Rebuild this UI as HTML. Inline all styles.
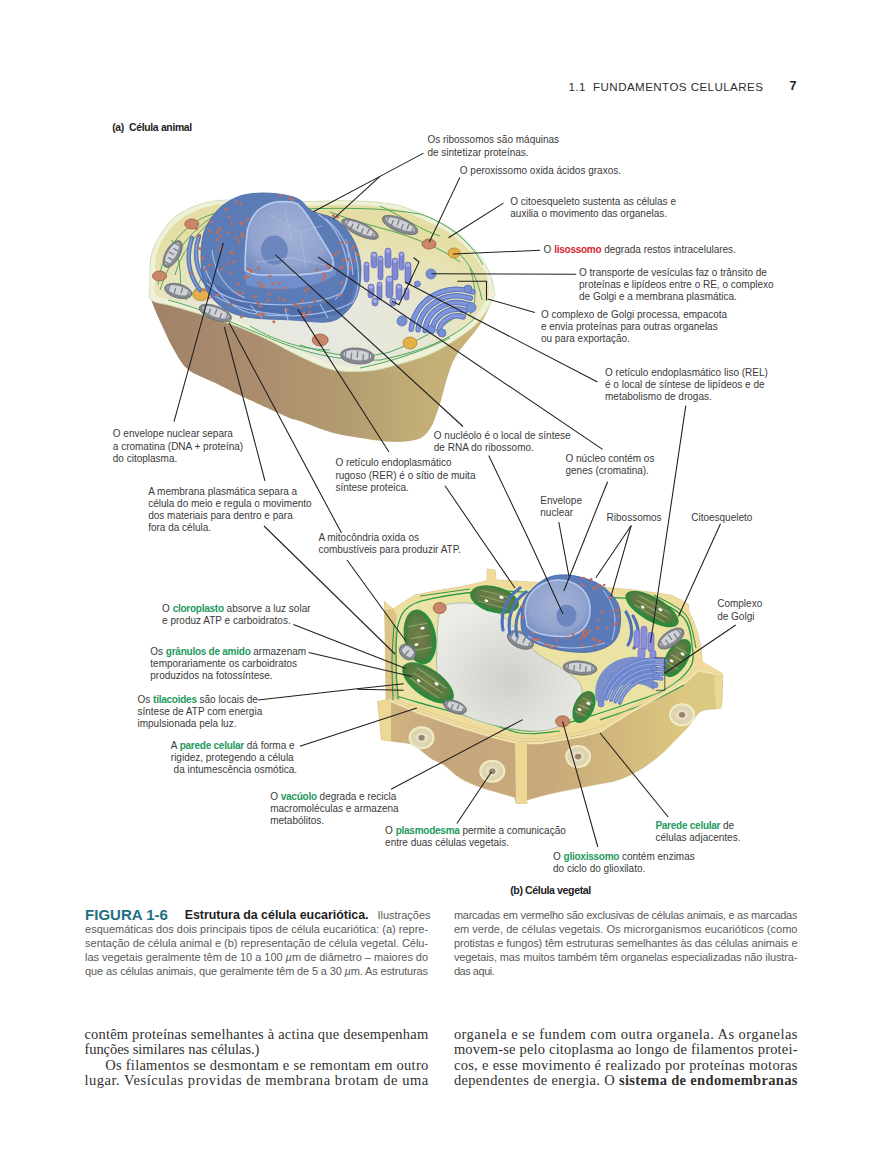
<!DOCTYPE html><html><head><meta charset="utf-8"><style>
html,body{margin:0;padding:0;background:#fff;}
body{width:890px;height:1174px;position:relative;overflow:hidden;font-family:"Liberation Sans",sans-serif;}
.t{position:absolute;white-space:pre;line-height:normal;}
.lb{font-size:10px;color:#3a3a3a;}
.lb b{font-weight:700;letter-spacing:-0.25px;}
svg{position:absolute;left:0;top:0;}
</style></head><body>

<svg width="890" height="1174" viewBox="0 0 890 1174" style="position:absolute;left:0;top:0">
<defs>
<linearGradient id="aside" x1="0" y1="0" x2="1" y2="0">
 <stop offset="0" stop-color="#a08268"/><stop offset="0.3" stop-color="#aa8d6e"/><stop offset="0.55" stop-color="#b29a70"/><stop offset="0.78" stop-color="#c2ad76"/><stop offset="1" stop-color="#cbb87a"/>
</linearGradient>
<radialGradient id="atop" cx="0.45" cy="0.78" r="0.7">
 <stop offset="0" stop-color="#e7e8e3"/><stop offset="0.45" stop-color="#e7e7d8"/><stop offset="0.8" stop-color="#e7e2b4"/><stop offset="1" stop-color="#e5dea4"/>
</radialGradient>
<radialGradient id="nucl" cx="0.5" cy="0.45" r="0.6">
 <stop offset="0" stop-color="#a3b2d6"/><stop offset="0.7" stop-color="#92a4cf"/><stop offset="1" stop-color="#7a90c4"/>
</radialGradient>
<radialGradient id="vac" cx="0.5" cy="0.6" r="0.6">
 <stop offset="0" stop-color="#cfd0ca"/><stop offset="0.6" stop-color="#e0e1da"/><stop offset="1" stop-color="#ecece6"/>
</radialGradient>
<linearGradient id="pside" x1="0" y1="0" x2="1" y2="0">
 <stop offset="0" stop-color="#d4b684"/><stop offset="0.2" stop-color="#c6a67c"/><stop offset="0.5" stop-color="#c8a97a"/><stop offset="0.7" stop-color="#d2b87c"/><stop offset="0.88" stop-color="#dbc780"/><stop offset="1" stop-color="#dcca82"/>
</linearGradient>
<radialGradient id="chl" cx="0.5" cy="0.5" r="0.6">
 <stop offset="0" stop-color="#7c9352"/><stop offset="0.6" stop-color="#5c7d45"/><stop offset="1" stop-color="#3f773a"/>
</radialGradient>
<radialGradient id="mito" cx="0.5" cy="0.4" r="0.6">
 <stop offset="0" stop-color="#d0d2d4"/><stop offset="1" stop-color="#8e9296"/>
</radialGradient>
</defs>
<path d="M150.0,285.0 C149.9,277.8 149.5,265.0 151.0,257.0 C152.5,249.0 155.2,243.5 159.0,237.0 C162.8,230.5 168.4,222.8 173.7,218.0 C179.0,213.2 185.0,210.6 190.6,208.0 C196.2,205.4 200.8,203.7 207.4,202.4 C214.0,201.1 214.6,200.2 230.0,200.0 C245.4,199.8 281.6,201.4 300.0,201.5 C318.4,201.6 328.8,200.7 340.6,200.7 C352.4,200.7 361.9,201.0 371.0,201.7 C380.1,202.4 388.3,203.3 395.0,204.7 C401.7,206.0 405.2,207.5 411.4,209.8 C417.6,212.1 424.7,215.0 432.0,218.5 C439.3,222.0 448.5,226.4 455.0,231.0 C461.5,235.6 466.5,241.3 471.0,246.0 C475.5,250.7 478.8,254.3 482.0,259.0 C485.2,263.7 488.0,268.8 490.0,274.0 C492.0,279.2 493.8,285.2 494.0,290.0 C494.2,294.8 493.4,297.2 491.0,303.0 C488.6,308.8 485.4,316.5 479.8,325.0 C474.2,333.5 462.6,345.8 457.3,354.0 C452.1,362.2 451.3,365.8 448.3,374.4 C445.3,383.0 442.3,396.8 439.3,405.8 C436.3,414.8 434.0,422.7 430.3,428.3 C426.6,433.9 423.6,437.4 416.9,439.6 C410.2,441.9 400.0,442.2 389.9,441.8 C379.8,441.4 366.2,438.9 356.2,437.3 C346.2,435.7 339.4,434.7 330.0,432.0 C320.6,429.3 307.1,423.5 300.0,421.0 C292.9,418.5 296.9,421.0 287.3,416.9 C277.7,412.8 254.4,402.2 242.4,396.6 C230.4,391.0 224.4,387.6 215.4,383.1 C206.4,378.6 195.1,374.9 188.4,369.7 C181.7,364.5 179.1,358.4 175.0,351.7 C170.9,344.9 167.6,337.8 163.7,329.2 C159.8,320.6 153.6,307.4 151.3,300.0 C149.0,292.6 150.1,292.2 150.0,285.0 Z" fill="url(#aside)"/>
<path d="M150.0,285.0 C149.9,277.8 149.5,265.0 151.0,257.0 C152.5,249.0 155.2,243.5 159.0,237.0 C162.8,230.5 168.4,222.8 173.7,218.0 C179.0,213.2 185.0,210.6 190.6,208.0 C196.2,205.4 200.8,203.7 207.4,202.4 C214.0,201.1 214.6,200.2 230.0,200.0 C245.4,199.8 281.6,201.4 300.0,201.5 C318.4,201.6 328.8,200.7 340.6,200.7 C352.4,200.7 361.9,201.0 371.0,201.7 C380.1,202.4 388.3,203.3 395.0,204.7 C401.7,206.0 405.2,207.5 411.4,209.8 C417.6,212.1 424.7,215.0 432.0,218.5 C439.3,222.0 448.5,226.4 455.0,231.0 C461.5,235.6 466.5,241.3 471.0,246.0 C475.5,250.7 478.8,254.3 482.0,259.0 C485.2,263.7 488.0,268.8 490.0,274.0 C492.0,279.2 493.4,286.0 494.0,290.0 C494.6,294.0 496.4,292.2 493.3,298.0 C490.2,303.8 485.1,316.0 475.3,325.0 C465.6,334.0 448.3,345.2 434.8,351.9 C421.3,358.6 405.6,362.2 394.4,365.4 C383.2,368.6 377.5,370.2 367.4,371.0 C357.3,371.8 344.9,372.3 333.7,369.9 C322.5,367.5 311.5,361.7 300.0,356.4 C288.5,351.1 277.0,343.8 264.8,338.2 C252.6,332.6 241.6,327.8 226.6,322.5 C211.6,317.2 187.6,310.4 175.0,306.7 C162.4,302.9 155.5,303.6 151.3,300.0 C147.1,296.4 150.1,292.2 150.0,285.0 Z" fill="#eef0d8" stroke="#cfe0b8" stroke-width="0.8"/>
<path d="M155.0,283.0 C155.0,276.8 154.7,265.3 156.0,258.0 C157.3,250.7 159.5,245.0 163.0,239.0 C166.5,233.0 172.0,226.5 177.0,222.0 C182.0,217.5 187.7,214.6 193.0,212.0 C198.3,209.4 202.8,207.8 209.0,206.5 C215.2,205.2 214.8,204.2 230.0,204.0 C245.2,203.8 281.7,205.4 300.0,205.5 C318.3,205.6 328.3,204.7 340.0,204.7 C351.7,204.7 361.2,205.1 370.0,205.7 C378.8,206.3 386.5,207.2 393.0,208.5 C399.5,209.8 403.0,211.2 409.0,213.5 C415.0,215.8 422.0,218.6 429.0,222.0 C436.0,225.4 444.7,229.7 451.0,234.0 C457.3,238.3 462.5,243.5 467.0,248.0 C471.5,252.5 474.8,256.5 478.0,261.0 C481.2,265.5 484.2,270.2 486.0,275.0 C487.8,279.8 489.0,285.8 489.0,290.0 C489.0,294.2 489.0,294.8 486.0,300.0 C483.0,305.2 480.0,313.2 471.0,321.0 C462.0,328.8 445.0,340.5 432.0,347.0 C419.0,353.5 403.8,356.9 393.0,360.0 C382.2,363.1 376.7,364.8 367.0,365.5 C357.3,366.2 345.8,366.8 335.0,364.5 C324.2,362.2 313.3,356.7 302.0,351.5 C290.7,346.3 279.2,339.2 267.0,333.5 C254.8,327.8 243.8,322.8 229.0,317.5 C214.2,312.2 190.2,305.8 178.0,302.0 C165.8,298.2 159.8,298.2 156.0,295.0 C152.2,291.8 155.0,289.2 155.0,283.0 Z" fill="url(#atop)"/>
<path d="M160,290 C170,260 185,235 215,215 C240,207 270,205 300,207" fill="none" stroke="#3ea04e" stroke-width="0.9"/>
<path d="M300,209 C340,208 380,207 420,214 C445,222 470,240 483,265" fill="none" stroke="#3ea04e" stroke-width="0.9"/>
<path d="M168,300 C200,308 230,322 265,336 C300,352 340,362 380,360 C420,352 455,338 475,318" fill="none" stroke="#3ea04e" stroke-width="0.9"/>
<path d="M330,212 C350,220 370,225 395,232 C420,240 440,248 460,262" fill="none" stroke="#3ea04e" stroke-width="0.9"/>
<path d="M175,275 C180,255 195,235 210,222" fill="none" stroke="#3ea04e" stroke-width="0.9"/>
<path d="M300,345 C330,355 360,360 390,352 C415,342 440,330 465,310" fill="none" stroke="#3ea04e" stroke-width="0.9"/>
<path d="M455,250 C470,262 478,280 482,300" fill="none" stroke="#3ea04e" stroke-width="0.9"/>
<path d="M250,326 C270,338 300,350 330,350" fill="none" stroke="#3ea04e" stroke-width="0.9"/>
<path d="M158,285 C160,262 172,240 190,226 C200,218 210,214 222,212" fill="none" stroke="#3ea04e" stroke-width="0.9"/>
<path d="M185,300 C200,290 205,270 205,255" fill="none" stroke="#3ea04e" stroke-width="0.9"/>
<path d="M172,240 C178,255 182,270 180,290" fill="none" stroke="#3ea04e" stroke-width="0.9"/>
<path d="M380,206 C400,215 420,230 440,236" fill="none" stroke="#3ea04e" stroke-width="0.9"/>
<path d="M470,268 C475,285 478,300 470,315" fill="none" stroke="#3ea04e" stroke-width="0.9"/>
<path d="M360,368 C390,362 420,352 450,338" fill="none" stroke="#3ea04e" stroke-width="0.9"/>
<g transform="translate(172.7,254) rotate(-60)"><ellipse rx="15" ry="7" fill="#85898f" stroke="#62666b" stroke-width="0.7"/><ellipse cy="-0.70" rx="12.30" ry="4.34" fill="#cfd2d6"/><line x1="-10.50" y1="-3.85" x2="-10.50" y2="1.05" stroke="#7b7f85" stroke-width="1.3" stroke-linecap="round"/><line x1="-5.25" y1="3.15" x2="-5.25" y2="-1.75" stroke="#7b7f85" stroke-width="1.3" stroke-linecap="round"/><line x1="0.00" y1="-3.85" x2="0.00" y2="1.05" stroke="#7b7f85" stroke-width="1.3" stroke-linecap="round"/><line x1="5.25" y1="3.15" x2="5.25" y2="-1.75" stroke="#7b7f85" stroke-width="1.3" stroke-linecap="round"/><line x1="10.50" y1="-3.85" x2="10.50" y2="1.05" stroke="#7b7f85" stroke-width="1.3" stroke-linecap="round"/></g>
<g transform="translate(178.3,291) rotate(15)"><ellipse rx="14" ry="7" fill="#85898f" stroke="#62666b" stroke-width="0.7"/><ellipse cy="-0.70" rx="11.48" ry="4.34" fill="#cfd2d6"/><line x1="-9.80" y1="-3.85" x2="-9.80" y2="1.05" stroke="#7b7f85" stroke-width="1.3" stroke-linecap="round"/><line x1="-3.27" y1="3.15" x2="-3.27" y2="-1.75" stroke="#7b7f85" stroke-width="1.3" stroke-linecap="round"/><line x1="3.27" y1="-3.85" x2="3.27" y2="1.05" stroke="#7b7f85" stroke-width="1.3" stroke-linecap="round"/><line x1="9.80" y1="3.15" x2="9.80" y2="-1.75" stroke="#7b7f85" stroke-width="1.3" stroke-linecap="round"/></g>
<g transform="translate(215.4,313) rotate(20)"><ellipse rx="17" ry="7" fill="#85898f" stroke="#62666b" stroke-width="0.7"/><ellipse cy="-0.70" rx="13.94" ry="4.34" fill="#cfd2d6"/><line x1="-11.90" y1="-3.85" x2="-11.90" y2="1.05" stroke="#7b7f85" stroke-width="1.3" stroke-linecap="round"/><line x1="-5.95" y1="3.15" x2="-5.95" y2="-1.75" stroke="#7b7f85" stroke-width="1.3" stroke-linecap="round"/><line x1="0.00" y1="-3.85" x2="0.00" y2="1.05" stroke="#7b7f85" stroke-width="1.3" stroke-linecap="round"/><line x1="5.95" y1="3.15" x2="5.95" y2="-1.75" stroke="#7b7f85" stroke-width="1.3" stroke-linecap="round"/><line x1="11.90" y1="-3.85" x2="11.90" y2="1.05" stroke="#7b7f85" stroke-width="1.3" stroke-linecap="round"/></g>
<g transform="translate(360,229) rotate(25)"><ellipse rx="20" ry="6.5" fill="#85898f" stroke="#62666b" stroke-width="0.7"/><ellipse cy="-0.65" rx="16.40" ry="4.03" fill="#cfd2d6"/><line x1="-14.00" y1="-3.58" x2="-14.00" y2="0.97" stroke="#7b7f85" stroke-width="1.3" stroke-linecap="round"/><line x1="-8.40" y1="2.93" x2="-8.40" y2="-1.62" stroke="#7b7f85" stroke-width="1.3" stroke-linecap="round"/><line x1="-2.80" y1="-3.58" x2="-2.80" y2="0.97" stroke="#7b7f85" stroke-width="1.3" stroke-linecap="round"/><line x1="2.80" y1="2.93" x2="2.80" y2="-1.62" stroke="#7b7f85" stroke-width="1.3" stroke-linecap="round"/><line x1="8.40" y1="-3.58" x2="8.40" y2="0.97" stroke="#7b7f85" stroke-width="1.3" stroke-linecap="round"/><line x1="14.00" y1="2.93" x2="14.00" y2="-1.62" stroke="#7b7f85" stroke-width="1.3" stroke-linecap="round"/></g>
<g transform="translate(400,225) rotate(22)"><ellipse rx="19" ry="7" fill="#85898f" stroke="#62666b" stroke-width="0.7"/><ellipse cy="-0.70" rx="15.58" ry="4.34" fill="#cfd2d6"/><line x1="-13.30" y1="-3.85" x2="-13.30" y2="1.05" stroke="#7b7f85" stroke-width="1.3" stroke-linecap="round"/><line x1="-7.98" y1="3.15" x2="-7.98" y2="-1.75" stroke="#7b7f85" stroke-width="1.3" stroke-linecap="round"/><line x1="-2.66" y1="-3.85" x2="-2.66" y2="1.05" stroke="#7b7f85" stroke-width="1.3" stroke-linecap="round"/><line x1="2.66" y1="3.15" x2="2.66" y2="-1.75" stroke="#7b7f85" stroke-width="1.3" stroke-linecap="round"/><line x1="7.98" y1="-3.85" x2="7.98" y2="1.05" stroke="#7b7f85" stroke-width="1.3" stroke-linecap="round"/><line x1="13.30" y1="3.15" x2="13.30" y2="-1.75" stroke="#7b7f85" stroke-width="1.3" stroke-linecap="round"/></g>
<g transform="translate(357.3,356) rotate(5)"><ellipse rx="17" ry="8" fill="#85898f" stroke="#62666b" stroke-width="0.7"/><ellipse cy="-0.80" rx="13.94" ry="4.96" fill="#cfd2d6"/><line x1="-11.90" y1="-4.40" x2="-11.90" y2="1.20" stroke="#7b7f85" stroke-width="1.3" stroke-linecap="round"/><line x1="-5.95" y1="3.60" x2="-5.95" y2="-2.00" stroke="#7b7f85" stroke-width="1.3" stroke-linecap="round"/><line x1="0.00" y1="-4.40" x2="0.00" y2="1.20" stroke="#7b7f85" stroke-width="1.3" stroke-linecap="round"/><line x1="5.95" y1="3.60" x2="5.95" y2="-2.00" stroke="#7b7f85" stroke-width="1.3" stroke-linecap="round"/><line x1="11.90" y1="-4.40" x2="11.90" y2="1.20" stroke="#7b7f85" stroke-width="1.3" stroke-linecap="round"/></g>
<ellipse cx="191.8" cy="224" rx="7" ry="5" fill="#c98668" stroke="#9c5d45" stroke-width="0.8"/>
<ellipse cx="159.5" cy="276" rx="7" ry="5" fill="#c98668" stroke="#9c5d45" stroke-width="0.8"/>
<ellipse cx="320.2" cy="340" rx="8" ry="6" fill="#c98668" stroke="#9c5d45" stroke-width="0.8"/>
<ellipse cx="429" cy="244" rx="7" ry="5" fill="#c98668" stroke="#9c5d45" stroke-width="0.8"/>
<ellipse cx="454" cy="253" rx="6" ry="5" fill="#e3b04a" stroke="#b9842c" stroke-width="0.8"/>
<ellipse cx="200.8" cy="294.6" rx="8" ry="6" fill="#e3b04a" stroke="#b9842c" stroke-width="0.8"/>
<ellipse cx="410" cy="343" rx="7" ry="6" fill="#e3b04a" stroke="#b9842c" stroke-width="0.8"/>
<rect x="364" y="262" width="5" height="20" rx="2.5" fill="#7f88d4" stroke="#5b63b0" stroke-width="0.6"/>
<ellipse cx="366.5" cy="264.5" rx="1.7" ry="1.3" fill="#a9b0e6"/>
<rect x="371" y="252" width="6" height="16" rx="3.0" fill="#7f88d4" stroke="#5b63b0" stroke-width="0.6"/>
<ellipse cx="374.0" cy="255.0" rx="2.2" ry="1.8" fill="#a9b0e6"/>
<rect x="378" y="256" width="5" height="24" rx="2.5" fill="#7f88d4" stroke="#5b63b0" stroke-width="0.6"/>
<ellipse cx="380.5" cy="258.5" rx="1.7" ry="1.3" fill="#a9b0e6"/>
<rect x="385" y="248" width="6" height="20" rx="3.0" fill="#7f88d4" stroke="#5b63b0" stroke-width="0.6"/>
<ellipse cx="388.0" cy="251.0" rx="2.2" ry="1.8" fill="#a9b0e6"/>
<rect x="392" y="258" width="6" height="22" rx="3.0" fill="#7f88d4" stroke="#5b63b0" stroke-width="0.6"/>
<ellipse cx="395.0" cy="261.0" rx="2.2" ry="1.8" fill="#a9b0e6"/>
<rect x="399" y="252" width="5" height="18" rx="2.5" fill="#7f88d4" stroke="#5b63b0" stroke-width="0.6"/>
<ellipse cx="401.5" cy="254.5" rx="1.7" ry="1.3" fill="#a9b0e6"/>
<rect x="405" y="262" width="6" height="22" rx="3.0" fill="#7f88d4" stroke="#5b63b0" stroke-width="0.6"/>
<ellipse cx="408.0" cy="265.0" rx="2.2" ry="1.8" fill="#a9b0e6"/>
<rect x="368" y="284" width="6" height="14" rx="3.0" fill="#7f88d4" stroke="#5b63b0" stroke-width="0.6"/>
<ellipse cx="371.0" cy="287.0" rx="2.2" ry="1.8" fill="#a9b0e6"/>
<rect x="377" y="282" width="5" height="18" rx="2.5" fill="#7f88d4" stroke="#5b63b0" stroke-width="0.6"/>
<ellipse cx="379.5" cy="284.5" rx="1.7" ry="1.3" fill="#a9b0e6"/>
<rect x="386" y="276" width="7" height="22" rx="3.5" fill="#7f88d4" stroke="#5b63b0" stroke-width="0.6"/>
<ellipse cx="389.5" cy="279.5" rx="2.7" ry="2.3" fill="#a9b0e6"/>
<rect x="396" y="284" width="6" height="16" rx="3.0" fill="#7f88d4" stroke="#5b63b0" stroke-width="0.6"/>
<ellipse cx="399.0" cy="287.0" rx="2.2" ry="1.8" fill="#a9b0e6"/>
<rect x="404" y="288" width="5" height="12" rx="2.5" fill="#7f88d4" stroke="#5b63b0" stroke-width="0.6"/>
<ellipse cx="406.5" cy="290.5" rx="1.7" ry="1.3" fill="#a9b0e6"/>
<rect x="372" y="298" width="6" height="8" rx="3.0" fill="#7f88d4" stroke="#5b63b0" stroke-width="0.6"/>
<ellipse cx="375.0" cy="301.0" rx="2.2" ry="1.8" fill="#a9b0e6"/>
<rect x="390" y="298" width="6" height="8" rx="3.0" fill="#7f88d4" stroke="#5b63b0" stroke-width="0.6"/>
<ellipse cx="393.0" cy="301.0" rx="2.2" ry="1.8" fill="#a9b0e6"/>
<path d="M439.1,331.5 A18.0,17.1 0 0 1 463.2,316.9" fill="none" stroke="#5a72c0" stroke-width="5.5" stroke-linecap="round"/>
<path d="M439.1,331.5 A18.0,17.1 0 0 1 463.2,316.9" fill="none" stroke="#7f97da" stroke-width="3.5" stroke-linecap="round"/>
<path d="M432.1,330.9 A25.0,23.8 0 0 1 465.6,310.7" fill="none" stroke="#5a72c0" stroke-width="5.5" stroke-linecap="round"/>
<path d="M432.1,330.9 A25.0,23.8 0 0 1 465.6,310.7" fill="none" stroke="#7f97da" stroke-width="3.5" stroke-linecap="round"/>
<path d="M425.1,330.4 A32.0,30.4 0 0 1 467.9,304.4" fill="none" stroke="#5a72c0" stroke-width="5.5" stroke-linecap="round"/>
<path d="M425.1,330.4 A32.0,30.4 0 0 1 467.9,304.4" fill="none" stroke="#7f97da" stroke-width="3.5" stroke-linecap="round"/>
<path d="M418.1,329.8 A39.0,37.0 0 0 1 470.3,298.2" fill="none" stroke="#5a72c0" stroke-width="5.5" stroke-linecap="round"/>
<path d="M418.1,329.8 A39.0,37.0 0 0 1 470.3,298.2" fill="none" stroke="#7f97da" stroke-width="3.5" stroke-linecap="round"/>
<path d="M411.2,329.2 A46.0,43.7 0 0 1 472.7,291.9" fill="none" stroke="#5a72c0" stroke-width="5.5" stroke-linecap="round"/>
<path d="M411.2,329.2 A46.0,43.7 0 0 1 472.7,291.9" fill="none" stroke="#7f97da" stroke-width="3.5" stroke-linecap="round"/>
<circle cx="431" cy="274" r="5" fill="#7890d6" stroke="#5068b5" stroke-width="0.7"/>
<circle cx="417.4" cy="284" r="3" fill="#7890d6" stroke="#5068b5" stroke-width="0.7"/>
<circle cx="468" cy="289" r="4" fill="#7890d6" stroke="#5068b5" stroke-width="0.7"/>
<circle cx="471" cy="307.5" r="5" fill="#7890d6" stroke="#5068b5" stroke-width="0.7"/>
<circle cx="402" cy="321" r="5" fill="#7890d6" stroke="#5068b5" stroke-width="0.7"/>
<circle cx="431" cy="329.4" r="4" fill="#7890d6" stroke="#5068b5" stroke-width="0.7"/>
<circle cx="442" cy="333" r="4" fill="#7890d6" stroke="#5068b5" stroke-width="0.7"/>
<path d="M192,238 C186,255 188,275 200,290" fill="none" stroke="#5c7cb8" stroke-width="4.5" stroke-linecap="round"/>
<path d="M192,238 C186,255 188,275 200,290" fill="none" stroke="#a6bbe6" stroke-width="0.8"/>
<path d="M199,236 C194,250 195,268 205,282" fill="none" stroke="#5c7cb8" stroke-width="4.5" stroke-linecap="round"/>
<path d="M199,236 C194,250 195,268 205,282" fill="none" stroke="#a6bbe6" stroke-width="0.8"/>
<path d="M203.0,236.0 C204.5,229.3 206.8,225.0 210.0,220.0 C213.2,215.0 217.0,210.0 222.0,206.0 C227.0,202.0 233.3,198.2 240.0,196.0 C246.7,193.8 254.5,193.2 262.0,193.0 C269.5,192.8 278.7,193.8 285.0,195.0 C291.3,196.2 295.5,197.3 300.0,200.0 C304.5,202.7 306.5,208.0 312.0,211.0 C317.5,214.0 327.2,214.8 333.0,218.0 C338.8,221.2 343.0,225.0 347.0,230.0 C351.0,235.0 354.7,241.3 357.0,248.0 C359.3,254.7 361.0,262.0 361.0,270.0 C361.0,278.0 360.0,288.5 357.0,296.0 C354.0,303.5 348.2,310.7 343.0,315.0 C337.8,319.3 334.5,321.2 326.0,322.0 C317.5,322.8 304.0,320.7 292.0,320.0 C280.0,319.3 264.3,319.3 254.0,318.0 C243.7,316.7 237.0,315.3 230.0,312.0 C223.0,308.7 216.3,302.8 212.0,298.0 C207.7,293.2 205.8,289.3 204.0,283.0 C202.2,276.7 201.2,267.8 201.0,260.0 C200.8,252.2 201.5,242.7 203.0,236.0 Z" fill="#5c7cb8" stroke="#4565a5" stroke-width="0.8"/>
<path d="M205,285 C220,300 240,312 270,316 C300,320 330,320 345,310 C352,300 356,285 357,270 L350,272 C348,290 335,305 305,307 C270,308 235,300 208,278 Z" fill="#40609f" opacity="0.45"/>
<path d="M207,283 C218,294 232,300 247,302 C275,307 315,306 342,293 C350,280 350,255 346,239" fill="none" stroke="#a9bde6" stroke-width="1.1"/>
<path d="M204,266 C212,290 230,308 250,313 C280,318 325,318 353,302 C360,290 360,270 355,252" fill="none" stroke="#a9bde6" stroke-width="1.1"/>
<path d="M215,296 C235,308 260,314 290,315" fill="none" stroke="#a9bde6" stroke-width="1.1"/>
<path d="M318,214 C335,225 345,245 348,270 C347,285 342,292 335,300" fill="none" stroke="#a9bde6" stroke-width="1.1"/>
<path d="M326,219 C342,232 352,252 353,275" fill="none" stroke="#a9bde6" stroke-width="1.1"/>
<path d="M212,250 C214,270 225,290 245,298" fill="none" stroke="#a9bde6" stroke-width="1.1"/>
<path d="M250,305 L262,318" fill="none" stroke="#a9bde6" stroke-width="1.1"/>
<path d="M285,308 L288,320" fill="none" stroke="#a9bde6" stroke-width="1.1"/>
<path d="M320,304 L328,318" fill="none" stroke="#a9bde6" stroke-width="1.1"/>
<path d="M245,270 C260,278 300,280 335,262 L336,274 C320,287 280,294 246,285 Z" fill="#7391cc" opacity="0.9"/>
<path d="M245.2,270.4 C245,255 246,240 247.4,230 C250,220 254,214 258.7,209.7 C265,205 270,203 276.6,201.9 C288,201 294,202 298,204 C304,210 311,220 317.4,232.5 C322,240 327,248 331,255 C334,260 334,265 331,270.4 C318,273 305,275 292.4,275 C280,275 268,275 258.7,275 C252,274 248,272 245.2,270.4 Z" fill="url(#nucl)" stroke="#b9caec" stroke-width="1.6"/>
<ellipse cx="274.4" cy="250.2" rx="13.5" ry="14.6" fill="#6d86bf"/>
<path d="M270,215 L300,232 L322,226" fill="none" stroke="#b3c3e4" stroke-width="0.6"/>
<path d="M300,232 L306,268" fill="none" stroke="#b3c3e4" stroke-width="0.6"/>
<path d="M256,262 L290,258 L330,266" fill="none" stroke="#b3c3e4" stroke-width="0.6"/>
<path d="M285,210 L292,240" fill="none" stroke="#b3c3e4" stroke-width="0.6"/>
<circle cx="228.5" cy="263.7" r="1.5" fill="#c46c58"/>
<circle cx="250.9" cy="271.3" r="1.5" fill="#c46c58"/>
<circle cx="232.1" cy="224.0" r="1.5" fill="#c46c58"/>
<circle cx="357.3" cy="254.2" r="1.5" fill="#c46c58"/>
<circle cx="295.9" cy="305.1" r="1.5" fill="#c46c58"/>
<circle cx="276.9" cy="288.9" r="1.5" fill="#c46c58"/>
<circle cx="316.9" cy="269.7" r="1.5" fill="#c46c58"/>
<circle cx="335.1" cy="254.5" r="1.5" fill="#c46c58"/>
<circle cx="310.2" cy="306.5" r="1.5" fill="#c46c58"/>
<circle cx="309.4" cy="311.9" r="1.5" fill="#c46c58"/>
<circle cx="255.1" cy="296.5" r="1.5" fill="#c46c58"/>
<circle cx="263.6" cy="313.8" r="1.5" fill="#c46c58"/>
<circle cx="211.1" cy="221.8" r="1.5" fill="#c46c58"/>
<circle cx="352.1" cy="249.8" r="1.5" fill="#c46c58"/>
<circle cx="247.7" cy="268.9" r="1.5" fill="#c46c58"/>
<circle cx="287.3" cy="309.7" r="1.5" fill="#c46c58"/>
<circle cx="303.9" cy="312.9" r="1.5" fill="#c46c58"/>
<circle cx="341.8" cy="266.8" r="1.5" fill="#c46c58"/>
<circle cx="329.4" cy="267.4" r="1.5" fill="#c46c58"/>
<circle cx="236.4" cy="202.1" r="1.5" fill="#c46c58"/>
<circle cx="238.0" cy="292.4" r="1.5" fill="#c46c58"/>
<circle cx="292.5" cy="199.8" r="1.5" fill="#c46c58"/>
<circle cx="273.9" cy="321.8" r="1.5" fill="#c46c58"/>
<circle cx="240.6" cy="203.9" r="1.5" fill="#c46c58"/>
<circle cx="290.0" cy="198.0" r="1.5" fill="#c46c58"/>
<circle cx="221.6" cy="246.2" r="1.5" fill="#c46c58"/>
<circle cx="241.4" cy="316.7" r="1.5" fill="#c46c58"/>
<circle cx="340.4" cy="242.4" r="1.5" fill="#c46c58"/>
<circle cx="347.9" cy="258.9" r="1.5" fill="#c46c58"/>
<circle cx="261.3" cy="286.2" r="1.5" fill="#c46c58"/>
<circle cx="228.4" cy="232.5" r="1.5" fill="#c46c58"/>
<circle cx="354.2" cy="260.7" r="1.5" fill="#c46c58"/>
<circle cx="281.2" cy="195.5" r="1.5" fill="#c46c58"/>
<circle cx="258.6" cy="268.2" r="1.5" fill="#c46c58"/>
<circle cx="191.4" cy="272.8" r="1.5" fill="#c46c58"/>
<circle cx="308.2" cy="288.5" r="1.5" fill="#c46c58"/>
<circle cx="302.9" cy="317.3" r="1.5" fill="#c46c58"/>
<circle cx="230.7" cy="252.4" r="1.5" fill="#c46c58"/>
<circle cx="250.8" cy="270.2" r="1.5" fill="#c46c58"/>
<circle cx="239.1" cy="242.3" r="1.5" fill="#c46c58"/>
<circle cx="284.8" cy="288.1" r="1.5" fill="#c46c58"/>
<circle cx="240.7" cy="222.5" r="1.5" fill="#c46c58"/>
<circle cx="219.9" cy="249.7" r="1.5" fill="#c46c58"/>
<circle cx="242.7" cy="236.7" r="1.5" fill="#c46c58"/>
<circle cx="333.4" cy="215.7" r="1.5" fill="#c46c58"/>
<circle cx="245.2" cy="277.2" r="1.5" fill="#c46c58"/>
<circle cx="338.4" cy="251.7" r="1.5" fill="#c46c58"/>
<circle cx="226.3" cy="209.5" r="1.5" fill="#c46c58"/>
<circle cx="325.2" cy="301.3" r="1.5" fill="#c46c58"/>
<circle cx="219.2" cy="229.7" r="1.5" fill="#c46c58"/>
<circle cx="325.2" cy="276.2" r="1.5" fill="#c46c58"/>
<circle cx="210.0" cy="231.4" r="1.5" fill="#c46c58"/>
<circle cx="261.8" cy="315.6" r="1.5" fill="#c46c58"/>
<circle cx="314.7" cy="301.1" r="1.5" fill="#c46c58"/>
<circle cx="237.1" cy="237.7" r="1.5" fill="#c46c58"/>
<circle cx="341.6" cy="282.8" r="1.5" fill="#c46c58"/>
<circle cx="340.9" cy="267.9" r="1.5" fill="#c46c58"/>
<circle cx="217.2" cy="232.4" r="1.5" fill="#c46c58"/>
<circle cx="258.3" cy="314.2" r="1.5" fill="#c46c58"/>
<circle cx="230.9" cy="304.3" r="1.5" fill="#c46c58"/>
<circle cx="269.1" cy="294.1" r="1.5" fill="#c46c58"/>
<circle cx="247.8" cy="219.3" r="1.5" fill="#c46c58"/>
<circle cx="278.9" cy="298.6" r="1.5" fill="#c46c58"/>
<circle cx="217.1" cy="295.3" r="1.5" fill="#c46c58"/>
<circle cx="294.9" cy="304.4" r="1.5" fill="#c46c58"/>
<circle cx="196.5" cy="228.7" r="1.5" fill="#c46c58"/>
<circle cx="233.7" cy="261.5" r="1.5" fill="#c46c58"/>
<circle cx="202.6" cy="258.3" r="1.5" fill="#c46c58"/>
<circle cx="241.7" cy="234.3" r="1.5" fill="#c46c58"/>
<circle cx="247.7" cy="276.8" r="1.5" fill="#c46c58"/>
<circle cx="220.5" cy="236.1" r="1.5" fill="#c46c58"/>
<circle cx="209.0" cy="265.1" r="1.5" fill="#c46c58"/>
<circle cx="251.5" cy="271.4" r="1.5" fill="#c46c58"/>
<circle cx="324.2" cy="273.7" r="1.5" fill="#c46c58"/>
<circle cx="272.3" cy="284.0" r="1.5" fill="#c46c58"/>
<circle cx="259.5" cy="282.8" r="1.5" fill="#c46c58"/>
<circle cx="279.1" cy="283.0" r="1.5" fill="#c46c58"/>
<circle cx="200.2" cy="248.4" r="1.5" fill="#c46c58"/>
<circle cx="260.4" cy="306.6" r="1.5" fill="#c46c58"/>
<circle cx="347.2" cy="241.9" r="1.5" fill="#c46c58"/>
<circle cx="340.6" cy="295.2" r="1.5" fill="#c46c58"/>
<circle cx="232.6" cy="253.4" r="1.5" fill="#c46c58"/>
<circle cx="208.9" cy="298.1" r="1.5" fill="#c46c58"/>
<circle cx="300.6" cy="307.6" r="1.5" fill="#c46c58"/>
<circle cx="322.7" cy="279.4" r="1.5" fill="#c46c58"/>
<circle cx="205.5" cy="269.2" r="1.5" fill="#c46c58"/>
<circle cx="337.7" cy="216.9" r="1.5" fill="#c46c58"/>
<circle cx="302.5" cy="301.0" r="1.5" fill="#c46c58"/>
<circle cx="349.9" cy="268.1" r="1.5" fill="#c46c58"/>
<circle cx="198.4" cy="235.5" r="1.5" fill="#c46c58"/>
<circle cx="283.9" cy="300.0" r="1.5" fill="#c46c58"/>
<circle cx="229.2" cy="217.0" r="1.5" fill="#c46c58"/>
<circle cx="230.5" cy="272.8" r="1.5" fill="#c46c58"/>
<circle cx="202.2" cy="258.0" r="1.5" fill="#c46c58"/>
<circle cx="353.4" cy="246.8" r="1.5" fill="#c46c58"/>
<circle cx="305.4" cy="290.8" r="1.5" fill="#c46c58"/>
<circle cx="270.2" cy="276.3" r="1.5" fill="#c46c58"/>
<circle cx="204.3" cy="289.8" r="1.5" fill="#c46c58"/>
<circle cx="343.8" cy="260.2" r="1.5" fill="#c46c58"/>
<circle cx="263.3" cy="286.0" r="1.5" fill="#c46c58"/>
<circle cx="219.6" cy="228.2" r="1.5" fill="#c46c58"/>
<circle cx="221.9" cy="269.0" r="1.5" fill="#c46c58"/>
<circle cx="241.5" cy="223.7" r="1.5" fill="#c46c58"/>
<circle cx="305.5" cy="316.0" r="1.5" fill="#c46c58"/>
<circle cx="238.3" cy="284.3" r="1.5" fill="#c46c58"/>
<circle cx="258.2" cy="303.3" r="1.5" fill="#c46c58"/>
<circle cx="217.3" cy="240.1" r="1.5" fill="#c46c58"/>
<circle cx="242.7" cy="293.1" r="1.5" fill="#c46c58"/>
<circle cx="267.6" cy="300.8" r="1.5" fill="#c46c58"/>
<circle cx="327.7" cy="265.3" r="1.5" fill="#c46c58"/>
<path d="M384.6,601.5 L393,609 L415,595 L437,590.7 L460,587 L487,581 L487,569 L495,570 L496,580 L538.5,582.5 L585,586 L630,589.5 L671,595 L681.8,600.5 L688.6,604.5 L688.6,611.4 L694,622 L698,634.5 L701,648 L702.3,661.8 L722.8,674 L722,700 L721,708 L716.4,709 C713.8,709.4 705.4,708.5 700.7,711.5 C696.0,714.5 692.2,722.3 688.0,727.0 C683.8,731.7 679.7,735.6 675.5,739.8 C671.3,744.0 667.7,748.2 663.0,752.4 C658.3,756.6 652.5,761.3 647.2,765.0 C642.0,768.7 636.8,771.8 631.5,774.4 C626.2,777.0 621.0,779.1 615.7,780.7 C610.5,782.3 610.3,781.8 600.0,783.8 C589.7,785.8 566.2,790.3 554.0,793.0 C541.8,795.7 531.5,798.8 527.0,800.0 L527,803.4 L516,803.4 L514.8,797.4 C512.4,796.7 506.4,795.0 500.7,793.3 C495.0,791.6 487.1,789.7 480.4,787.2 C473.6,784.7 466.3,781.8 460.2,778.1 C454.1,774.4 448.9,768.3 444.0,765.0 C439.1,761.7 436.2,761.7 431.0,758.4 C425.8,755.1 419.0,747.8 413.0,745.0 C407.0,742.2 400.2,742.6 395.0,741.7 C389.8,740.8 383.8,740.0 381.5,739.7 L377.6,701.5 L386,700 Z" fill="url(#pside)" stroke="#cdb47a" stroke-width="0.6"/>
<path d="M384.6,601.5 L393,609 L415,595 L437,590.7 L460,587 L487,581 L487,569 L495,570 L496,580 L538.5,582.5 L585,586 L630,589.5 L671,595 L681.8,600.5 L688.6,604.5 L688.6,611.4 L694,622 L698,634.5 L701,648 L702.3,661.8 L722.8,674 L698,668.7 L686.5,680 L663,692.6 L652,699 L631.5,710 L600,730 L581,735 L540,741.6 L519,741.6 L494,735.8 L456,724.4 L417.8,711 L391,699.6 L377.6,701.5 L386,700 Z" fill="#efdc9c"/>
<path d="M386,700 L384.6,610 L393,609 L397,615 L397,698 Z" fill="#dcc488"/>
<path d="M397.0,615.0 C399.2,605.5 402.8,606.5 410.0,603.0 C417.2,599.5 426.7,596.5 440.0,594.0 C453.3,591.5 473.3,588.7 490.0,588.0 C506.7,587.3 521.7,589.0 540.0,590.0 C558.3,591.0 583.3,592.7 600.0,594.0 C616.7,595.3 628.7,596.3 640.0,598.0 C651.3,599.7 660.7,600.7 668.0,604.0 C675.3,607.3 680.2,612.0 684.0,618.0 C687.8,624.0 689.7,632.7 691.0,640.0 C692.3,647.3 693.2,655.0 692.0,662.0 C690.8,669.0 688.7,677.0 684.0,682.0 C679.3,687.0 673.0,688.0 664.0,692.0 C655.0,696.0 641.2,701.7 630.0,706.0 C618.8,710.3 608.7,714.3 597.0,718.0 C585.3,721.7 571.2,725.2 560.0,728.0 C548.8,730.8 540.8,735.0 530.0,735.0 C519.2,735.0 506.7,731.2 495.0,728.0 C483.3,724.8 472.5,719.8 460.0,716.0 C447.5,712.2 430.2,708.0 420.0,705.0 C409.8,702.0 402.8,705.5 399.0,698.0 C395.2,690.5 397.3,673.8 397.0,660.0 C396.7,646.2 394.8,624.5 397.0,615.0 Z" fill="#eae3a4"/>
<path d="M398.0,696.0 C397.3,689.8 396.0,671.8 396.0,660.0 C396.0,648.2 395.7,634.0 398.0,625.0 C400.3,616.0 403.0,610.7 410.0,606.0 C417.0,601.3 426.7,599.5 440.0,597.0 C453.3,594.5 473.3,591.7 490.0,591.0 C506.7,590.3 521.7,592.0 540.0,593.0 C558.3,594.0 581.0,595.7 600.0,597.0 C619.0,598.3 640.0,597.5 654.0,601.0 C668.0,604.5 677.7,610.7 684.0,618.0 C690.3,625.3 691.0,636.7 692.0,645.0 C693.0,653.3 694.7,660.5 690.0,668.0 C685.3,675.5 674.0,684.2 664.0,690.0 C654.0,695.8 641.2,699.0 630.0,703.0 C618.8,707.0 608.7,710.3 597.0,714.0 C585.3,717.7 571.2,722.2 560.0,725.0 C548.8,727.8 540.8,731.0 530.0,731.0 C519.2,731.0 506.7,727.8 495.0,725.0 C483.3,722.2 472.5,717.7 460.0,714.0 C447.5,710.3 430.0,705.8 420.0,703.0 C410.0,700.2 403.7,698.2 400.0,697.0 C396.3,695.8 398.7,702.2 398.0,696.0 Z" fill="none" stroke="#2f9a48" stroke-width="1.3"/>
<path d="M393.0,700.0 C392.8,693.3 391.8,672.5 392.0,660.0 C392.2,647.5 393.7,630.8 394.0,625.0" fill="none" stroke="#2f9a48" stroke-width="1.1"/>
<path d="M470.0,716.0 C478.3,718.8 505.0,730.5 520.0,733.0 C535.0,735.5 553.3,731.3 560.0,731.0" fill="none" stroke="#2f9a48" stroke-width="1.1"/>
<path d="M600.0,720.0 C608.3,717.0 636.0,707.8 650.0,702.0 C664.0,696.2 678.3,687.8 684.0,685.0" fill="none" stroke="#2f9a48" stroke-width="1.1"/>
<path d="M654.0,595.0 C659.3,598.3 679.0,606.2 686.0,615.0 C693.0,623.8 694.3,642.5 696.0,648.0" fill="none" stroke="#2f9a48" stroke-width="1.1"/>
<path d="M420.0,596.0 C428.3,594.8 461.7,590.2 470.0,589.0" fill="none" stroke="#2f9a48" stroke-width="1.1"/>
<polyline points="377.6,703.0 391,701.1 417.8,712.5 456,725.9 494,737.3 519,743.1 540,743.1 581,736.5 600,731.5 631.5,711.5 652,700.5 663,694.1 686.5,681.5 698,670.2 722.8,675.5" fill="none" stroke="#f2e4b0" stroke-width="2.2" stroke-linejoin="round"/>
<polyline points="391,696.6 417.8,708 456,721.4 494,732.8 519,738.6 540,738.6 581,732 600,727 631.5,707 652,696 663,689.6 686.5,677 698,665.7" fill="none" stroke="#d9c088" stroke-width="0.7" opacity="0.8"/>
<path d="M515,741.6 L527,741.8 L527,803.4 L516,803.4 Z" fill="#ecd894"/>
<path d="M377.6,701.5 L391,699.6 L391,741.6 L381.5,739.7 Z" fill="#ecd894"/>
<path d="M714,678 L722.8,674 L721,708 L716.4,709 Z" fill="#ecd894"/>
<ellipse cx="421.6" cy="737.8" rx="12" ry="10.5" fill="#ddd4b0" stroke="#f2e9c8" stroke-width="2"/>
<ellipse cx="421.6" cy="737.8" rx="6" ry="5" fill="#e8e0c4"/>
<ellipse cx="421.6" cy="737.8" rx="3.2" ry="2.8" fill="#9c8270"/>
<ellipse cx="492.3" cy="771.2" rx="12" ry="10.5" fill="#ddd4b0" stroke="#f2e9c8" stroke-width="2"/>
<ellipse cx="492.3" cy="771.2" rx="6" ry="5" fill="#e8e0c4"/>
<ellipse cx="492.3" cy="771.2" rx="3.2" ry="2.8" fill="#9c8270"/>
<ellipse cx="578.2" cy="756.6" rx="12" ry="10.5" fill="#ddd4b0" stroke="#f2e9c8" stroke-width="2"/>
<ellipse cx="578.2" cy="756.6" rx="6" ry="5" fill="#e8e0c4"/>
<ellipse cx="578.2" cy="756.6" rx="3.2" ry="2.8" fill="#9c8270"/>
<ellipse cx="682" cy="714.8" rx="12" ry="10.5" fill="#ddd4b0" stroke="#f2e9c8" stroke-width="2"/>
<ellipse cx="682" cy="714.8" rx="6" ry="5" fill="#e8e0c4"/>
<ellipse cx="682" cy="714.8" rx="3.2" ry="2.8" fill="#9c8270"/>
<path d="M444.0,605.0 C450.0,603.2 464.8,601.8 475.0,604.0 C485.2,606.2 494.8,610.0 505.0,618.0 C515.2,626.0 526.7,643.7 536.0,652.0 C545.3,660.3 553.5,662.3 561.0,668.0 C568.5,673.7 578.2,679.0 581.0,686.0 C583.8,693.0 581.5,703.3 578.0,710.0 C574.5,716.7 568.0,722.5 560.0,726.0 C552.0,729.5 543.0,731.7 530.0,731.0 C517.0,730.3 495.3,726.2 482.0,722.0 C468.7,717.8 457.3,713.0 450.0,706.0 C442.7,699.0 440.2,691.0 438.0,680.0 C435.8,669.0 436.8,650.8 437.0,640.0 C437.2,629.2 437.8,620.8 439.0,615.0 C440.2,609.2 438.0,606.8 444.0,605.0 Z" fill="url(#vac)" stroke="#9fb0a6" stroke-width="0.8"/>
<g transform="translate(420,637) rotate(-10)"><ellipse rx="16" ry="27.7" fill="#2c8a3c"/><ellipse cx="-1" cy="-1" rx="13.5" ry="25.2" fill="url(#chl)"/><ellipse rx="9.6" ry="12.465" fill="#6b5a3a" opacity="0.3"/><line x1="-9.6" y1="-12.2" x2="9.6" y2="-12.2" stroke="#9cc47a" stroke-width="1" opacity="0.7"/><line x1="-9.6" y1="0.0" x2="9.6" y2="0.0" stroke="#9cc47a" stroke-width="1" opacity="0.7"/><line x1="-9.6" y1="12.2" x2="9.6" y2="12.2" stroke="#9cc47a" stroke-width="1" opacity="0.7"/><ellipse cx="4.0" cy="-8.3" rx="2.2" ry="1.4" fill="#fff"/><ellipse cx="-4.8" cy="6.9" rx="2" ry="1.3" fill="#fff"/></g>
<g transform="translate(494.5,599.5) rotate(15)"><ellipse rx="25" ry="13" fill="#2c8a3c"/><ellipse cx="-1" cy="-1" rx="22.5" ry="10.5" fill="url(#chl)"/><ellipse rx="15.0" ry="5.8500000000000005" fill="#6b5a3a" opacity="0.3"/><line x1="-15.0" y1="-5.7" x2="15.0" y2="-5.7" stroke="#9cc47a" stroke-width="1" opacity="0.7"/><line x1="-15.0" y1="0.0" x2="15.0" y2="0.0" stroke="#9cc47a" stroke-width="1" opacity="0.7"/><line x1="-15.0" y1="5.7" x2="15.0" y2="5.7" stroke="#9cc47a" stroke-width="1" opacity="0.7"/><ellipse cx="6.2" cy="-3.9" rx="2.2" ry="1.4" fill="#fff"/><ellipse cx="-7.5" cy="3.2" rx="2" ry="1.3" fill="#fff"/></g>
<g transform="translate(428,683) rotate(35)"><ellipse rx="30" ry="14" fill="#2c8a3c"/><ellipse cx="-1" cy="-1" rx="27.5" ry="11.5" fill="url(#chl)"/><ellipse rx="18.0" ry="6.3" fill="#6b5a3a" opacity="0.3"/><line x1="-18.0" y1="-6.2" x2="18.0" y2="-6.2" stroke="#9cc47a" stroke-width="1" opacity="0.7"/><line x1="-18.0" y1="0.0" x2="18.0" y2="0.0" stroke="#9cc47a" stroke-width="1" opacity="0.7"/><line x1="-18.0" y1="6.2" x2="18.0" y2="6.2" stroke="#9cc47a" stroke-width="1" opacity="0.7"/><ellipse cx="7.5" cy="-4.2" rx="2.2" ry="1.4" fill="#fff"/><ellipse cx="-9.0" cy="3.5" rx="2" ry="1.3" fill="#fff"/></g>
<g transform="translate(652,609) rotate(30)"><ellipse rx="30" ry="12" fill="#2c8a3c"/><ellipse cx="-1" cy="-1" rx="27.5" ry="9.5" fill="url(#chl)"/><ellipse rx="18.0" ry="5.4" fill="#6b5a3a" opacity="0.3"/><line x1="-18.0" y1="-5.3" x2="18.0" y2="-5.3" stroke="#9cc47a" stroke-width="1" opacity="0.7"/><line x1="-18.0" y1="0.0" x2="18.0" y2="0.0" stroke="#9cc47a" stroke-width="1" opacity="0.7"/><line x1="-18.0" y1="5.3" x2="18.0" y2="5.3" stroke="#9cc47a" stroke-width="1" opacity="0.7"/><ellipse cx="7.5" cy="-3.6" rx="2.2" ry="1.4" fill="#fff"/><ellipse cx="-9.0" cy="3.0" rx="2" ry="1.3" fill="#fff"/></g>
<g transform="translate(677,658) rotate(30)"><ellipse rx="11" ry="21" fill="#2c8a3c"/><ellipse cx="-1" cy="-1" rx="8.5" ry="18.5" fill="url(#chl)"/><ellipse rx="6.6" ry="9.450000000000001" fill="#6b5a3a" opacity="0.3"/><line x1="-6.6" y1="-9.2" x2="6.6" y2="-9.2" stroke="#9cc47a" stroke-width="1" opacity="0.7"/><line x1="-6.6" y1="0.0" x2="6.6" y2="0.0" stroke="#9cc47a" stroke-width="1" opacity="0.7"/><line x1="-6.6" y1="9.2" x2="6.6" y2="9.2" stroke="#9cc47a" stroke-width="1" opacity="0.7"/><ellipse cx="2.8" cy="-6.3" rx="2.2" ry="1.4" fill="#fff"/><ellipse cx="-3.3" cy="5.2" rx="2" ry="1.3" fill="#fff"/></g>
<g transform="translate(584,707) rotate(25)"><ellipse rx="10" ry="17" fill="#2c8a3c"/><ellipse cx="-1" cy="-1" rx="7.5" ry="14.5" fill="url(#chl)"/><ellipse rx="6.0" ry="7.65" fill="#6b5a3a" opacity="0.3"/><line x1="-6.0" y1="-7.5" x2="6.0" y2="-7.5" stroke="#9cc47a" stroke-width="1" opacity="0.7"/><line x1="-6.0" y1="0.0" x2="6.0" y2="0.0" stroke="#9cc47a" stroke-width="1" opacity="0.7"/><line x1="-6.0" y1="7.5" x2="6.0" y2="7.5" stroke="#9cc47a" stroke-width="1" opacity="0.7"/><ellipse cx="2.5" cy="-5.1" rx="2.2" ry="1.4" fill="#fff"/><ellipse cx="-3.0" cy="4.2" rx="2" ry="1.3" fill="#fff"/></g>
<g transform="translate(407.5,652) rotate(40)"><ellipse rx="9" ry="7" fill="#85898f" stroke="#62666b" stroke-width="0.7"/><ellipse cy="-0.70" rx="7.38" ry="4.34" fill="#cfd2d6"/><line x1="-6.30" y1="-3.85" x2="-6.30" y2="1.05" stroke="#7b7f85" stroke-width="1.3" stroke-linecap="round"/><line x1="0.00" y1="3.15" x2="0.00" y2="-1.75" stroke="#7b7f85" stroke-width="1.3" stroke-linecap="round"/><line x1="6.30" y1="-3.85" x2="6.30" y2="1.05" stroke="#7b7f85" stroke-width="1.3" stroke-linecap="round"/></g>
<g transform="translate(455,707) rotate(20)"><ellipse rx="12" ry="6" fill="#85898f" stroke="#62666b" stroke-width="0.7"/><ellipse cy="-0.60" rx="9.84" ry="3.72" fill="#cfd2d6"/><line x1="-8.40" y1="-3.30" x2="-8.40" y2="0.90" stroke="#7b7f85" stroke-width="1.3" stroke-linecap="round"/><line x1="-2.80" y1="2.70" x2="-2.80" y2="-1.50" stroke="#7b7f85" stroke-width="1.3" stroke-linecap="round"/><line x1="2.80" y1="-3.30" x2="2.80" y2="0.90" stroke="#7b7f85" stroke-width="1.3" stroke-linecap="round"/><line x1="8.40" y1="2.70" x2="8.40" y2="-1.50" stroke="#7b7f85" stroke-width="1.3" stroke-linecap="round"/></g>
<g transform="translate(520.5,640) rotate(25)"><ellipse rx="14" ry="8" fill="#85898f" stroke="#62666b" stroke-width="0.7"/><ellipse cy="-0.80" rx="11.48" ry="4.96" fill="#cfd2d6"/><line x1="-9.80" y1="-4.40" x2="-9.80" y2="1.20" stroke="#7b7f85" stroke-width="1.3" stroke-linecap="round"/><line x1="-3.27" y1="3.60" x2="-3.27" y2="-2.00" stroke="#7b7f85" stroke-width="1.3" stroke-linecap="round"/><line x1="3.27" y1="-4.40" x2="3.27" y2="1.20" stroke="#7b7f85" stroke-width="1.3" stroke-linecap="round"/><line x1="9.80" y1="3.60" x2="9.80" y2="-2.00" stroke="#7b7f85" stroke-width="1.3" stroke-linecap="round"/></g>
<g transform="translate(580,668) rotate(5)"><ellipse rx="17" ry="7" fill="#85898f" stroke="#62666b" stroke-width="0.7"/><ellipse cy="-0.70" rx="13.94" ry="4.34" fill="#cfd2d6"/><line x1="-11.90" y1="-3.85" x2="-11.90" y2="1.05" stroke="#7b7f85" stroke-width="1.3" stroke-linecap="round"/><line x1="-5.95" y1="3.15" x2="-5.95" y2="-1.75" stroke="#7b7f85" stroke-width="1.3" stroke-linecap="round"/><line x1="0.00" y1="-3.85" x2="0.00" y2="1.05" stroke="#7b7f85" stroke-width="1.3" stroke-linecap="round"/><line x1="5.95" y1="3.15" x2="5.95" y2="-1.75" stroke="#7b7f85" stroke-width="1.3" stroke-linecap="round"/><line x1="11.90" y1="-3.85" x2="11.90" y2="1.05" stroke="#7b7f85" stroke-width="1.3" stroke-linecap="round"/></g>
<g transform="translate(671,638.5) rotate(-35)"><ellipse rx="15" ry="7.5" fill="#85898f" stroke="#62666b" stroke-width="0.7"/><ellipse cy="-0.75" rx="12.30" ry="4.65" fill="#cfd2d6"/><line x1="-10.50" y1="-4.12" x2="-10.50" y2="1.12" stroke="#7b7f85" stroke-width="1.3" stroke-linecap="round"/><line x1="-5.25" y1="3.38" x2="-5.25" y2="-1.88" stroke="#7b7f85" stroke-width="1.3" stroke-linecap="round"/><line x1="0.00" y1="-4.12" x2="0.00" y2="1.12" stroke="#7b7f85" stroke-width="1.3" stroke-linecap="round"/><line x1="5.25" y1="3.38" x2="5.25" y2="-1.88" stroke="#7b7f85" stroke-width="1.3" stroke-linecap="round"/><line x1="10.50" y1="-4.12" x2="10.50" y2="1.12" stroke="#7b7f85" stroke-width="1.3" stroke-linecap="round"/></g>
<ellipse cx="439.7" cy="608" rx="6.5" ry="5.5" fill="#c98668" stroke="#9c5d45" stroke-width="0.8"/>
<ellipse cx="562.6" cy="721.3" rx="7" ry="5.5" fill="#c98668" stroke="#9c5d45" stroke-width="0.8"/>
<path d="M503,630 C500,615 505,598 520,588" fill="none" stroke="#4f72ba" stroke-width="3.2" stroke-linecap="round"/>
<path d="M510,634 C507,618 512,602 526,592" fill="none" stroke="#4f72ba" stroke-width="3.2" stroke-linecap="round"/>
<path d="M517,636 C514,622 518,608 530,598" fill="none" stroke="#4f72ba" stroke-width="3.2" stroke-linecap="round"/>
<path d="M626,612 C632,622 634,635 628,645" fill="none" stroke="#4f72ba" stroke-width="3.2" stroke-linecap="round"/>
<path d="M633,616 C640,628 640,640 634,648" fill="none" stroke="#4f72ba" stroke-width="3.2" stroke-linecap="round"/>
<path d="M521.0,623.0 C521.0,616.7 521.0,605.3 525.0,598.0 C529.0,590.7 537.8,582.8 545.0,579.0 C552.2,575.2 559.7,574.5 568.0,575.0 C576.3,575.5 587.7,578.7 595.0,582.0 C602.3,585.3 607.8,590.3 612.0,595.0 C616.2,599.7 618.8,603.8 620.0,610.0 C621.2,616.2 620.7,626.2 619.0,632.0 C617.3,637.8 614.8,641.7 610.0,645.0 C605.2,648.3 597.5,651.0 590.0,652.0 C582.5,653.0 573.3,652.2 565.0,651.0 C556.7,649.8 546.7,647.5 540.0,645.0 C533.3,642.5 528.2,639.7 525.0,636.0 C521.8,632.3 521.0,629.3 521.0,623.0 Z" fill="#5a7ab8" stroke="#4565a5" stroke-width="0.8"/>
<path d="M528,636 C545,648 575,652 605,643" fill="none" stroke="#a6bbe6" stroke-width="1.1"/>
<path d="M603,590 C615,605 618,622 612,640" fill="none" stroke="#a6bbe6" stroke-width="1.1"/>
<path d="M525,612 C525,595 538,582 556,580 C575,579 588,590 590,606 C591,622 585,632 570,636 C552,638 533,634 527,626 Z" fill="url(#nucl)" stroke="#b9caec" stroke-width="1.5"/>
<ellipse cx="566.5" cy="615.7" rx="10" ry="11" fill="#6d86bf"/>
<circle cx="583.0" cy="632.1" r="1.4" fill="#c46c58"/>
<circle cx="594.5" cy="646.0" r="1.4" fill="#c46c58"/>
<circle cx="614.4" cy="625.0" r="1.4" fill="#c46c58"/>
<circle cx="549.4" cy="645.6" r="1.4" fill="#c46c58"/>
<circle cx="597.0" cy="587.3" r="1.4" fill="#c46c58"/>
<circle cx="600.1" cy="585.7" r="1.4" fill="#c46c58"/>
<circle cx="582.5" cy="584.8" r="1.4" fill="#c46c58"/>
<circle cx="609.6" cy="598.0" r="1.4" fill="#c46c58"/>
<circle cx="602.2" cy="612.0" r="1.4" fill="#c46c58"/>
<circle cx="591.1" cy="579.4" r="1.4" fill="#c46c58"/>
<circle cx="595.5" cy="640.1" r="1.4" fill="#c46c58"/>
<circle cx="573.4" cy="634.7" r="1.4" fill="#c46c58"/>
<circle cx="532.6" cy="632.6" r="1.4" fill="#c46c58"/>
<circle cx="600.1" cy="641.2" r="1.4" fill="#c46c58"/>
<circle cx="581.9" cy="645.7" r="1.4" fill="#c46c58"/>
<circle cx="555.3" cy="646.2" r="1.4" fill="#c46c58"/>
<circle cx="618.7" cy="616.1" r="1.4" fill="#c46c58"/>
<circle cx="580.2" cy="638.6" r="1.4" fill="#c46c58"/>
<circle cx="604.2" cy="585.1" r="1.4" fill="#c46c58"/>
<circle cx="583.8" cy="635.7" r="1.4" fill="#c46c58"/>
<circle cx="536.6" cy="640.0" r="1.4" fill="#c46c58"/>
<circle cx="617.6" cy="609.9" r="1.4" fill="#c46c58"/>
<circle cx="616.1" cy="623.3" r="1.4" fill="#c46c58"/>
<circle cx="598.6" cy="641.8" r="1.4" fill="#c46c58"/>
<circle cx="597.9" cy="628.5" r="1.4" fill="#c46c58"/>
<circle cx="587.1" cy="633.5" r="1.4" fill="#c46c58"/>
<circle cx="597.4" cy="628.2" r="1.4" fill="#c46c58"/>
<circle cx="550.8" cy="647.8" r="1.4" fill="#c46c58"/>
<circle cx="523.1" cy="617.1" r="1.4" fill="#c46c58"/>
<circle cx="567.4" cy="637.9" r="1.4" fill="#c46c58"/>
<circle cx="585.4" cy="636.4" r="1.4" fill="#c46c58"/>
<circle cx="594.3" cy="638.8" r="1.4" fill="#c46c58"/>
<circle cx="556.3" cy="639.9" r="1.4" fill="#c46c58"/>
<circle cx="607.3" cy="628.0" r="1.4" fill="#c46c58"/>
<circle cx="538.3" cy="639.4" r="1.4" fill="#c46c58"/>
<circle cx="613.9" cy="611.7" r="1.4" fill="#c46c58"/>
<circle cx="589.8" cy="630.4" r="1.4" fill="#c46c58"/>
<circle cx="593.6" cy="588.2" r="1.4" fill="#c46c58"/>
<circle cx="598.5" cy="619.7" r="1.4" fill="#c46c58"/>
<circle cx="583.1" cy="634.7" r="1.4" fill="#c46c58"/>
<circle cx="584.4" cy="630.5" r="1.4" fill="#c46c58"/>
<circle cx="583.8" cy="578.2" r="1.4" fill="#c46c58"/>
<circle cx="545.3" cy="644.5" r="1.4" fill="#c46c58"/>
<circle cx="522.1" cy="606.2" r="1.4" fill="#c46c58"/>
<circle cx="533.3" cy="639.0" r="1.4" fill="#c46c58"/>
<rect x="634" y="630" width="6" height="18" rx="3" fill="#8a8edc" stroke="#6a6ab8" stroke-width="0.6"/>
<rect x="641" y="626" width="6" height="24" rx="3" fill="#8a8edc" stroke="#6a6ab8" stroke-width="0.6"/>
<rect x="648" y="632" width="6" height="20" rx="3" fill="#8a8edc" stroke="#6a6ab8" stroke-width="0.6"/>
<rect x="638" y="648" width="7" height="12" rx="3" fill="#8a8edc" stroke="#6a6ab8" stroke-width="0.6"/>
<rect x="650" y="650" width="6" height="12" rx="3" fill="#8a8edc" stroke="#6a6ab8" stroke-width="0.6"/>
<path d="M596,700 C592,680 605,660 630,657 C642,656 650,660 654,666 L654,690 C640,680 620,682 610,692 C606,697 604,702 602,706 Z" fill="#6f86cf" opacity="0.9"/>
<path d="M619.8,702.9 A36.0,36.0 0 0 1 661.5,678.8" fill="none" stroke="#6a82cc" stroke-width="4" stroke-linecap="round"/>
<path d="M619.8,702.9 A36.0,36.0 0 0 1 661.5,678.8" fill="none" stroke="#93a6e0" stroke-width="1.2"/>
<path d="M615.4,701.5 A40.6,40.6 0 0 1 662.4,674.3" fill="none" stroke="#6a82cc" stroke-width="4" stroke-linecap="round"/>
<path d="M615.4,701.5 A40.6,40.6 0 0 1 662.4,674.3" fill="none" stroke="#93a6e0" stroke-width="1.2"/>
<path d="M611.0,700.0 A45.2,45.2 0 0 1 663.4,669.8" fill="none" stroke="#6a82cc" stroke-width="4" stroke-linecap="round"/>
<path d="M611.0,700.0 A45.2,45.2 0 0 1 663.4,669.8" fill="none" stroke="#93a6e0" stroke-width="1.2"/>
<path d="M606.6,698.6 A49.8,49.8 0 0 1 664.4,665.3" fill="none" stroke="#6a82cc" stroke-width="4" stroke-linecap="round"/>
<path d="M606.6,698.6 A49.8,49.8 0 0 1 664.4,665.3" fill="none" stroke="#93a6e0" stroke-width="1.2"/>
<path d="M602.3,697.2 A54.4,54.4 0 0 1 665.3,660.8" fill="none" stroke="#6a82cc" stroke-width="4" stroke-linecap="round"/>
<path d="M602.3,697.2 A54.4,54.4 0 0 1 665.3,660.8" fill="none" stroke="#93a6e0" stroke-width="1.2"/>
<circle cx="654" cy="668" r="2.5" fill="#7890d6" stroke="#5068b5" stroke-width="0.6"/>
<circle cx="656" cy="676" r="3.2" fill="#7890d6" stroke="#5068b5" stroke-width="0.6"/>
<circle cx="655" cy="685" r="3" fill="#7890d6" stroke="#5068b5" stroke-width="0.6"/>
<circle cx="601" cy="704" r="3" fill="#7890d6" stroke="#5068b5" stroke-width="0.6"/>
<polyline points="654.7,657.8 664.8,657.8 664.8,690.3 655.8,690.3" fill="none" stroke="#333" stroke-width="0.8"/>
</svg>
<svg width="890" height="1174" viewBox="0 0 890 1174" style="position:absolute;left:0;top:0">
<polyline points="423.5,153.1 380,176.4 313.3,211.8" fill="none" stroke="#1e1e1e" stroke-width="1.05"/>
<polyline points="380,176.4 333.5,218.9" fill="none" stroke="#1e1e1e" stroke-width="1.05"/>
<polyline points="459.9,177.4 429.2,242.2" fill="none" stroke="#1e1e1e" stroke-width="1.05"/>
<polyline points="503.4,203.1 448.5,237.8" fill="none" stroke="#1e1e1e" stroke-width="1.05"/>
<polyline points="540.2,250.3 453,254" fill="none" stroke="#1e1e1e" stroke-width="1.05"/>
<polyline points="576.2,274.2 431.5,273.7" fill="none" stroke="#1e1e1e" stroke-width="1.05"/>
<polyline points="534.8,312.4 487.6,298.9" fill="none" stroke="#1e1e1e" stroke-width="1.05"/>
<polyline points="457.3,281.3 486.5,281.3 486.5,300.5" fill="none" stroke="#1e1e1e" stroke-width="1.05"/>
<polyline points="413.5,257.5 419,262 399,304.7 392,301.3" fill="none" stroke="#1e1e1e" stroke-width="1.05"/>
<polyline points="405,282 597.5,382" fill="none" stroke="#1e1e1e" stroke-width="1.05"/>
<polyline points="318,257 602.6,449.4" fill="none" stroke="#1e1e1e" stroke-width="1.05"/>
<polyline points="275.5,254.8 463,426.5" fill="none" stroke="#1e1e1e" stroke-width="1.05"/>
<polyline points="297.8,309.4 389,452" fill="none" stroke="#1e1e1e" stroke-width="1.05"/>
<polyline points="223.3,243 174,421.7" fill="none" stroke="#1e1e1e" stroke-width="1.05"/>
<polyline points="224.4,327 265,481" fill="none" stroke="#1e1e1e" stroke-width="1.05"/>
<polyline points="229,322.5 341.5,533" fill="none" stroke="#1e1e1e" stroke-width="1.05"/>
<polyline points="445,485.7 482,540 515,588" fill="none" stroke="#1e1e1e" stroke-width="1.05"/>
<polyline points="488.7,455.4 529,540 563,614" fill="none" stroke="#1e1e1e" stroke-width="1.05"/>
<polyline points="558.8,522.1 568.9,576" fill="none" stroke="#1e1e1e" stroke-width="1.05"/>
<polyline points="607.6,481.7 563.8,591" fill="none" stroke="#1e1e1e" stroke-width="1.05"/>
<polyline points="631.2,525.5 595.8,577.7" fill="none" stroke="#1e1e1e" stroke-width="1.05"/>
<polyline points="631.2,525.5 611,596.3" fill="none" stroke="#1e1e1e" stroke-width="1.05"/>
<polyline points="685.8,405.6 650.5,643" fill="none" stroke="#1e1e1e" stroke-width="1.05"/>
<polyline points="720.5,523.8 678.4,616.5" fill="none" stroke="#1e1e1e" stroke-width="1.05"/>
<polyline points="735.7,625 665,673" fill="none" stroke="#1e1e1e" stroke-width="1.05"/>
<polyline points="264,526 395,654" fill="none" stroke="#1e1e1e" stroke-width="1.05"/>
<polyline points="347,560 405.8,641" fill="none" stroke="#1e1e1e" stroke-width="1.05"/>
<polyline points="293.5,624.5 405.7,668.5" fill="none" stroke="#1e1e1e" stroke-width="1.05"/>
<polyline points="308.7,652.4 411.8,676.6" fill="none" stroke="#1e1e1e" stroke-width="1.05"/>
<polyline points="258.1,700 357.2,688.8 403.7,683.7" fill="none" stroke="#1e1e1e" stroke-width="1.05"/>
<polyline points="357.2,689.3 403.7,690.2" fill="none" stroke="#1e1e1e" stroke-width="1.05"/>
<polyline points="299.9,746.3 416.8,708" fill="none" stroke="#1e1e1e" stroke-width="1.05"/>
<polyline points="391,789.3 522.8,719.6" fill="none" stroke="#1e1e1e" stroke-width="1.05"/>
<polyline points="456.9,823.5 491.3,772" fill="none" stroke="#1e1e1e" stroke-width="1.05"/>
<polyline points="597.8,847 562.6,721.3" fill="none" stroke="#1e1e1e" stroke-width="1.05"/>
<polyline points="668.2,817 600,733" fill="none" stroke="#1e1e1e" stroke-width="1.05"/>
</svg>
<div class="t lb" style="left:427.4px;top:134.4px">Os ribossomos são máquinas</div>
<div class="t lb" style="left:427.4px;top:146.5px">de sintetizar proteínas.</div>
<div class="t lb" style="left:459.8px;top:164.8px">O peroxissomo oxida ácidos graxos.</div>
<div class="t lb" style="left:510.3px;top:196.1px">O citoesqueleto sustenta as células e</div>
<div class="t lb" style="left:510.3px;top:208.2px">auxilia o movimento das organelas.</div>
<div class="t lb" style="left:543.6px;top:244.4px">O <b style="color:#d8262e">lisossomo</b> degrada restos intracelulares.</div>
<div class="t lb" style="left:579.0px;top:266.8px">O transporte de vesículas faz o trânsito de</div>
<div class="t lb" style="left:579.0px;top:278.9px">proteínas e lipídeos entre o RE, o complexo</div>
<div class="t lb" style="left:579.0px;top:290.9px">de Golgi e a membrana plasmática.</div>
<div class="t lb" style="left:540.9px;top:308.6px">O complexo de Golgi processa, empacota</div>
<div class="t lb" style="left:540.9px;top:320.7px">e envia proteínas para outras organelas</div>
<div class="t lb" style="left:540.9px;top:332.8px">ou para exportação.</div>
<div class="t lb" style="left:605.0px;top:367.1px">O retículo endoplasmático liso (REL)</div>
<div class="t lb" style="left:605.0px;top:379.2px">é o local de síntese de lipídeos e de</div>
<div class="t lb" style="left:605.0px;top:391.3px">metabolismo de drogas.</div>
<div class="t lb" style="left:112.8px;top:428.4px">O envelope nuclear separa</div>
<div class="t lb" style="left:112.8px;top:440.6px">a cromatina (DNA + proteína)</div>
<div class="t lb" style="left:112.8px;top:452.6px">do citoplasma.</div>
<div class="t lb" style="left:433.8px;top:430.1px">O nucléolo é o local de síntese</div>
<div class="t lb" style="left:433.8px;top:442.2px">de RNA do ribossomo.</div>
<div class="t lb" style="left:565.5px;top:453.1px">O núcleo contém os</div>
<div class="t lb" style="left:565.5px;top:465.2px">genes (cromatina).</div>
<div class="t lb" style="left:335.4px;top:457.4px">O retículo endoplasmático</div>
<div class="t lb" style="left:335.4px;top:469.6px">rugoso (RER) é o sítio de muita</div>
<div class="t lb" style="left:335.4px;top:481.6px">síntese proteica.</div>
<div class="t lb" style="left:148.2px;top:485.8px">A membrana plasmática separa a</div>
<div class="t lb" style="left:148.2px;top:497.9px">célula do meio e regula o movimento</div>
<div class="t lb" style="left:148.2px;top:509.9px">dos materiais para dentro e para</div>
<div class="t lb" style="left:148.2px;top:522.1px">fora da célula.</div>
<div class="t lb" style="left:540.3px;top:495.2px">Envelope</div>
<div class="t lb" style="left:540.3px;top:507.3px">nuclear</div>
<div class="t lb" style="left:606.6px;top:512.4px">Ribossomos</div>
<div class="t lb" style="left:691.2px;top:512.4px">Citoesqueleto</div>
<div class="t lb" style="left:318.4px;top:532.2px">A mitocôndria oxida os</div>
<div class="t lb" style="left:318.4px;top:544.4px">combustíveis para produzir ATP.</div>
<div class="t lb" style="left:717.2px;top:598.4px">Complexo</div>
<div class="t lb" style="left:717.2px;top:610.5px">de Golgi</div>
<div class="t lb" style="left:162.1px;top:602.9px">O <b style="color:#1e9a5e">cloroplasto</b> absorve a luz solar</div>
<div class="t lb" style="left:162.1px;top:615.0px">e produz ATP e carboidratos.</div>
<div class="t lb" style="left:150.3px;top:645.7px">Os <b style="color:#1e9a5e">grânulos de amido</b> armazenam</div>
<div class="t lb" style="left:150.3px;top:657.8px">temporariamente os carboidratos</div>
<div class="t lb" style="left:150.3px;top:669.9px">produzidos na fotossíntese.</div>
<div class="t lb" style="left:137.5px;top:693.9px">Os <b style="color:#1e9a5e">tilacoides</b> são locais de</div>
<div class="t lb" style="left:137.5px;top:706.0px">síntese de ATP com energia</div>
<div class="t lb" style="left:137.5px;top:718.1px">impulsionada pela luz.</div>
<div class="t lb" style="left:170.8px;top:739.6px">A <b style="color:#1e9a5e">parede celular</b> dá forma e</div>
<div class="t lb" style="left:170.8px;top:751.7px">rigidez, protegendo a célula</div>
<div class="t lb" style="left:170.8px;top:763.8px"> da intumescência osmótica.</div>
<div class="t lb" style="left:270.2px;top:791.2px">O <b style="color:#1e9a5e">vacúolo</b> degrada e recicla</div>
<div class="t lb" style="left:270.2px;top:803.3px">macromoléculas e armazena</div>
<div class="t lb" style="left:270.2px;top:815.4px">metabólitos.</div>
<div class="t lb" style="left:385.1px;top:825.2px">O <b style="color:#1e9a5e">plasmodesma</b> permite a comunicação</div>
<div class="t lb" style="left:385.1px;top:837.3px">entre duas células vegetais.</div>
<div class="t lb" style="left:655.4px;top:819.6px"><b style="color:#1e9a5e">Parede celular</b> de</div>
<div class="t lb" style="left:655.4px;top:831.7px">células adjacentes.</div>
<div class="t lb" style="left:553.0px;top:850.8px">O <b style="color:#1e9a5e">glioxissomo</b> contém enzimas</div>
<div class="t lb" style="left:553.0px;top:862.9px">do ciclo do glioxilato.</div>
<div class="t" style="left:568.4px;top:79.7px;font-size:11.6px;letter-spacing:0.42px;color:#2e2e2e">1.1  FUNDAMENTOS CELULARES</div>
<div class="t" style="left:789.5px;top:78.9px;font-size:12.5px;font-weight:700;color:#222">7</div>
<div class="t" style="left:112.2px;top:122.3px;font-size:10.4px;letter-spacing:-0.32px;font-weight:700;color:#222">(a)  Célula animal</div>
<div class="t" style="left:510.2px;top:884.4px;font-size:10.6px;letter-spacing:-0.39px;font-weight:700;color:#222">(b) Célula vegetal</div>
<div class="t" style="left:85.1px;top:905.5px;font-size:15px;font-weight:700;color:#1d6f82">FIGURA 1-6</div>
<div class="t" style="left:184.7px;top:907.9px;font-size:12.4px;font-weight:700;color:#1e1e1e">Estrutura da célula eucariótica.</div>
<div class="t" style="left:377.4px;top:909.1px;font-size:11px;color:#5a5a5a">Ilustrações</div>
<div class="t" style="left:85.1px;top:923.3px;font-family:'Liberation Sans';font-size:11px;color:#5a5a5a;letter-spacing:-0.000px">esquemáticas dos dois principais tipos de célula eucariótica: (a) repre-</div>
<div class="t" style="left:85.1px;top:937.2px;font-family:'Liberation Sans';font-size:11px;color:#5a5a5a;letter-spacing:-0.018px">sentação de célula animal e (b) representação de célula vegetal. Célu-</div>
<div class="t" style="left:85.1px;top:951.1px;font-family:'Liberation Sans';font-size:11px;color:#5a5a5a;letter-spacing:-0.032px">las vegetais geralmente têm de 10 a 100 <i>µ</i>m de diâmetro – maiores do</div>
<div class="t" style="left:85.1px;top:965.1px;font-family:'Liberation Sans';font-size:11px;color:#5a5a5a;letter-spacing:-0.146px">que as células animais, que geralmente têm de 5 a 30 <i>µ</i>m. As estruturas</div>
<div class="t" style="left:453.9px;top:909.1px;font-family:'Liberation Sans';font-size:11px;color:#5a5a5a;letter-spacing:-0.261px">marcadas em vermelho são exclusivas de células animais, e as marcadas</div>
<div class="t" style="left:453.9px;top:923.3px;font-family:'Liberation Sans';font-size:11px;color:#5a5a5a;letter-spacing:0.028px">em verde, de células vegetais. Os microrganismos eucarióticos (como</div>
<div class="t" style="left:453.9px;top:937.2px;font-family:'Liberation Sans';font-size:11px;color:#5a5a5a;letter-spacing:-0.122px">protistas e fungos) têm estruturas semelhantes às das células animais e</div>
<div class="t" style="left:453.9px;top:951.1px;font-family:'Liberation Sans';font-size:11px;color:#5a5a5a;letter-spacing:-0.117px">vegetais, mas muitos também têm organelas especializadas não ilustra-</div>
<div class="t" style="left:453.9px;top:965.1px;font-family:'Liberation Sans';font-size:11px;color:#5a5a5a;letter-spacing:-0.457px">das aqui.</div>
<div class="t" style="left:84.4px;top:1025.7px;font-family:'Liberation Serif';font-size:14.5px;color:#303030;letter-spacing:0.200px">contêm proteínas semelhantes à actina que desempenham</div>
<div class="t" style="left:84.4px;top:1041.0px;font-family:'Liberation Serif';font-size:14.5px;color:#303030;letter-spacing:-0.045px">funções similares nas células.)</div>
<div class="t" style="left:105.3px;top:1056.6px;font-family:'Liberation Serif';font-size:14.5px;color:#303030;letter-spacing:0.251px">Os filamentos se desmontam e se remontam em outro</div>
<div class="t" style="left:84.4px;top:1072.2px;font-family:'Liberation Serif';font-size:14.5px;color:#303030;letter-spacing:0.535px">lugar. Vesículas providas de membrana brotam de uma</div>
<div class="t" style="left:453.9px;top:1025.7px;font-family:'Liberation Serif';font-size:14.5px;color:#303030;letter-spacing:0.452px">organela e se fundem com outra organela. As organelas</div>
<div class="t" style="left:453.9px;top:1041.0px;font-family:'Liberation Serif';font-size:14.5px;color:#303030;letter-spacing:0.181px">movem-se pelo citoplasma ao longo de filamentos protei-</div>
<div class="t" style="left:453.9px;top:1056.6px;font-family:'Liberation Serif';font-size:14.5px;color:#303030;letter-spacing:0.301px">cos, e esse movimento é realizado por proteínas motoras</div>
<div class="t" style="left:453.9px;top:1072.2px;font-family:'Liberation Serif';font-size:14.5px;color:#303030;letter-spacing:0.336px">dependentes de energia. O <b>sistema de endomembranas</b></div>
</body></html>
